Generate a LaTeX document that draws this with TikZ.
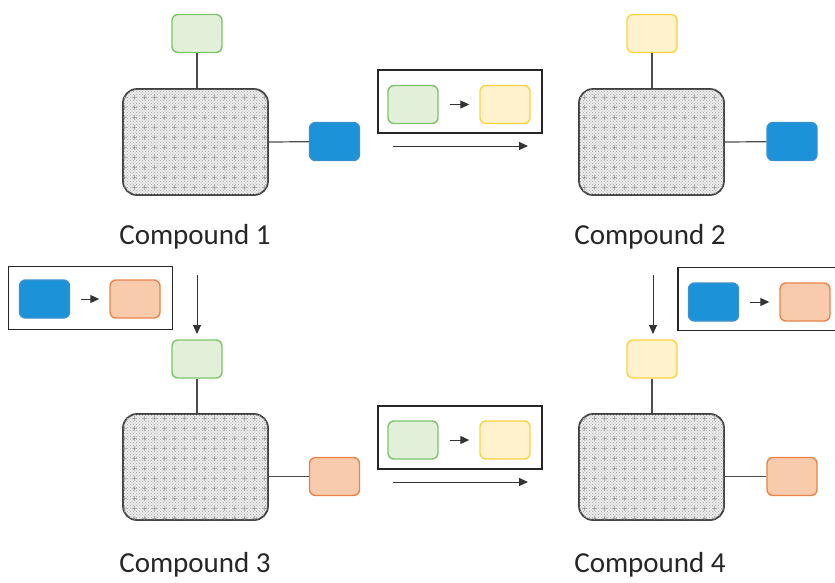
\documentclass[tikz,border=0pt]{standalone}
\usepackage{fontspec}
\setmainfont{Carlito}
\usepackage{tikz}
\usetikzlibrary{arrows.meta,patterns}
\definecolor{grnf}{HTML}{E2F0D9}
\definecolor{grnd}{HTML}{7CC46A}
\definecolor{ylwf}{HTML}{FFF2CC}
\definecolor{ylwd}{HTML}{FFD23F}
\definecolor{bluf}{HTML}{1C93D8}
\definecolor{blud}{HTML}{3A8FD0}
\definecolor{orgf}{HTML}{F8CBAD}
\definecolor{orgd}{HTML}{E9834A}
% texture of the core boxes
\pgfdeclarepatternformonly{finedots}{\pgfqpoint{-1pt}{-1pt}}{\pgfqpoint{4pt}{4pt}}{\pgfqpoint{3pt}{3pt}}{%
  \pgfpathcircle{\pgfqpoint{0pt}{0pt}}{0.55pt}
  \pgfpathcircle{\pgfqpoint{1.5pt}{1.5pt}}{0.55pt}
  \pgfusepath{fill}}
\pgfdeclarepatternformonly{coarsedots}{\pgfqpoint{0pt}{0pt}}{\pgfqpoint{10pt}{10pt}}{\pgfqpoint{10pt}{10pt}}{%
  \pgfpathcircle{\pgfqpoint{5pt}{5pt}}{0.8pt}
  \pgfpathcircle{\pgfqpoint{3.3pt}{5pt}}{0.7pt}
  \pgfpathcircle{\pgfqpoint{6.7pt}{5pt}}{0.7pt}
  \pgfpathcircle{\pgfqpoint{5pt}{3.3pt}}{0.7pt}
  \pgfpathcircle{\pgfqpoint{5pt}{6.7pt}}{0.7pt}
  \pgfusepath{fill}}

\begin{document}
\begin{tikzpicture}[x=1pt, y=-1pt,
  core/.style={rectangle, draw=black!75, line width=1.8pt, rounded corners=14pt,
               minimum width=145pt, minimum height=106pt, inner sep=0pt,
               fill=gray!12, postaction={pattern=finedots, pattern color=gray!65},
               postaction={pattern=coarsedots, pattern color=gray!85}},
  grp/.style={rectangle, rounded corners=6pt, line width=1.4pt,
              minimum width=50pt, minimum height=38pt, inner sep=0pt},
  gG/.style={grp, draw=grnd, fill=grnf},
  gY/.style={grp, draw=ylwd, fill=ylwf},
  gB/.style={grp, draw=blud, fill=bluf},
  gO/.style={grp, draw=orgd, fill=orgf},
  rxn/.style={rectangle, draw=black!85, line width=1.8pt,
              minimum width=164pt, minimum height=63pt, inner sep=0pt},
  bond/.style={draw=black!70, line width=1.2pt},
  ar/.style={-{Triangle[length=9pt,width=8pt]}, line width=1pt, black!80},
  lbl/.style={font=\fontsize{29}{34}\selectfont, text=black!85}]
\useasboundingbox (0,0) rectangle (835,582);
% compound 1
\node[core] (c1) at (195.5,142) {};
\node[gG] (c1t) at (197,33.5) {};
\node[gB] (c1r) at (334.5,141.5) {};
\draw[bond] (c1t) -- (c1t |- c1.north);
\draw[bond] (c1.east) -- (c1r);
\node[lbl] (l1) at (195,237) {Compound 1};
% compound 2
\node[core] (c2) at (651.5,142) {};
\node[gY] (c2t) at (652,33.5) {};
\node[gB] (c2r) at (792,141.5) {};
\draw[bond] (c2t) -- (c2t |- c2.north);
\draw[bond] (c2.east) -- (c2r);
\node[lbl] (l2) at (650,237) {Compound 2};
% compound 3
\node[core] (c3) at (195.5,467) {};
\node[gG] (c3t) at (197,359) {};
\node[gO] (c3r) at (334.5,476.5) {};
\draw[bond] (c3t) -- (c3t |- c3.north);
\draw[bond] (c3.east |- c3r) -- (c3r);
\node[lbl] (l3) at (195,565) {Compound 3};
% compound 4
\node[core] (c4) at (651.5,467) {};
\node[gY] (c4t) at (652,359) {};
\node[gO] (c4r) at (792,476.5) {};
\draw[bond] (c4t) -- (c4t |- c4.north);
\draw[bond] (c4.east |- c4r) -- (c4r);
\node[lbl] (l4) at (650,565) {Compound 4};

% reaction 1 -> 2
\node[rxn] (r12) at (460,101.5) {};
\node[gG] (r12a) at (413,104.5) {};
\node[gY] (r12b) at (505,104.5) {};
\draw[ar] ([xshift=11pt]r12a.east) -- ([xshift=-10pt]r12b.west);
\coordinate (h12a) at (393,146);
\coordinate (h12b) at (528,146);
\draw[ar] (h12a) -- (h12b);
% reaction 3 -> 4
\node[rxn] (r34) at (460,437.5) {};
\node[gG] (r34a) at (413,440) {};
\node[gY] (r34b) at (505,440) {};
\draw[ar] ([xshift=11pt]r34a.east) -- ([xshift=-10pt]r34b.west);
\coordinate (h34a) at (393,482);
\coordinate (h34b) at (528,482);
\draw[ar] (h34a) -- (h34b);
% reaction 1 -> 3
\node[rxn] (r13) at (90.5,298) {};
\node[gB] (r13a) at (44.5,299) {};
\node[gO] (r13b) at (135,299) {};
\draw[ar] ([xshift=11pt]r13a.east) -- ([xshift=-10pt]r13b.west);
\coordinate (v13a) at (197,275);
\coordinate (v13b) at (197,334);
\draw[ar] (v13a) -- (v13b);
% reaction 2 -> 4
\node[rxn] (r24) at (760,299) {};
\node[gB] (r24a) at (713.5,302) {};
\node[gO] (r24b) at (805,302) {};
\draw[ar] ([xshift=11pt]r24a.east) -- ([xshift=-10pt]r24b.west);
\coordinate (v24a) at (653,275);
\coordinate (v24b) at (653,334);
\draw[ar] (v24a) -- (v24b);
\end{tikzpicture}
\end{document}
